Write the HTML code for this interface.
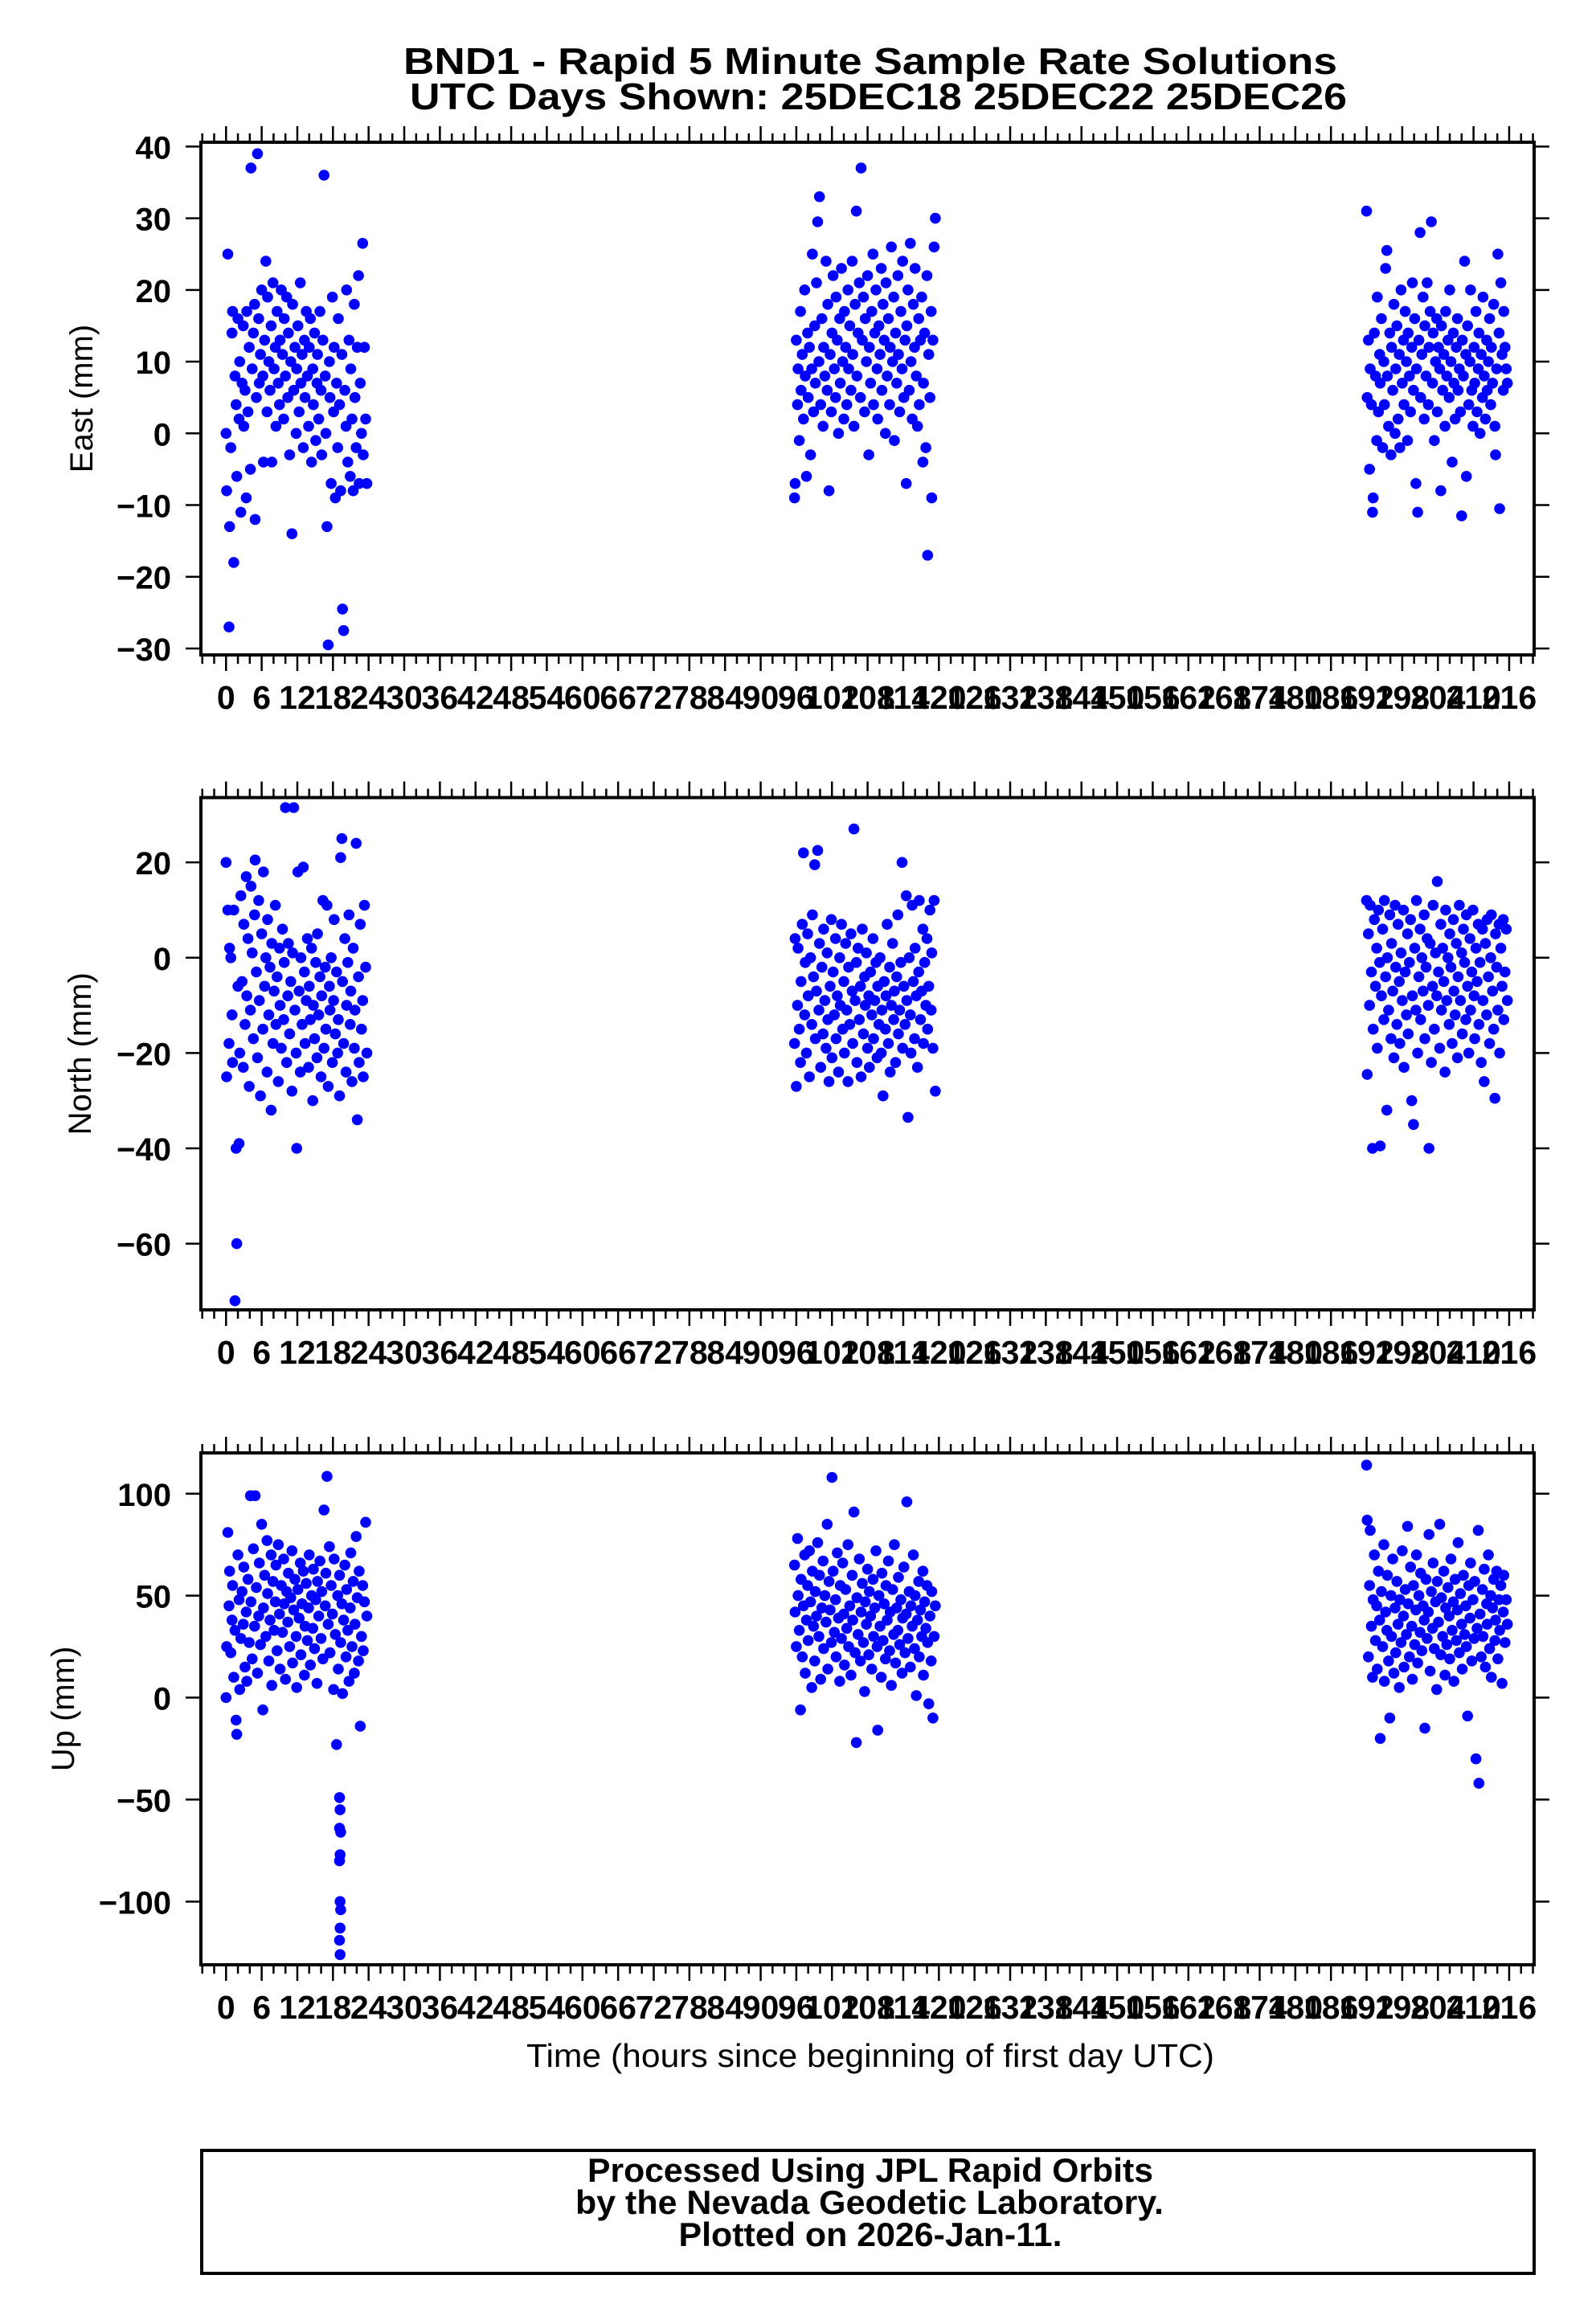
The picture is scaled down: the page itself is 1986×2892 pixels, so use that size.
<!DOCTYPE html>
<html><head><meta charset="utf-8"><title>BND1 Rapid 5 Minute Solutions</title>
<style>html,body{margin:0;padding:0;background:#fff}svg{display:block}</style></head>
<body>
<svg id="chart" xmlns="http://www.w3.org/2000/svg" width="1986" height="2892" viewBox="0 0 1986 2892" font-family="'Liberation Sans', sans-serif">
<rect width="1986" height="2892" fill="#fff"/>
<text x="1083" y="92" text-anchor="middle" font-weight="bold" font-size="46" textLength="1162" lengthAdjust="spacingAndGlyphs">BND1 - Rapid 5 Minute Sample Rate Solutions</text>
<text x="1093" y="136" text-anchor="middle" font-weight="bold" font-size="46" textLength="1166" lengthAdjust="spacingAndGlyphs">UTC Days Shown:  25DEC18 25DEC22 25DEC26</text>
<text x="1083" y="2572" text-anchor="middle" font-size="41" textLength="856" lengthAdjust="spacingAndGlyphs">Time (hours since beginning of first day UTC)</text>
<rect x="251" y="2676" width="1658" height="153" fill="none" stroke="#000" stroke-width="4"/>
<text x="1083" y="2715" text-anchor="middle" font-weight="bold" font-size="42" textLength="704" lengthAdjust="spacingAndGlyphs">Processed Using JPL Rapid Orbits</text>
<text x="1082" y="2755" text-anchor="middle" font-weight="bold" font-size="42" textLength="732" lengthAdjust="spacingAndGlyphs">by the Nevada Geodetic Laboratory.</text>
<text x="1083" y="2795" text-anchor="middle" font-weight="bold" font-size="42" textLength="477" lengthAdjust="spacingAndGlyphs">Plotted on 2026-Jan-11.</text>
</svg>
<script>
// ---- data ----
const dayStart = [0, 95.7, 192];
const tDay = [0.0,0.1,0.3,0.5,0.6,0.8,1.0,1.1,1.3,1.5,1.7,1.8,2.0,2.2,2.3,2.5,2.7,2.9,3.0,3.2,3.4,3.5,3.7,3.9,4.1,4.2,4.4,4.6,4.8,4.9,5.1,5.3,5.5,5.6,5.8,6.0,6.2,6.3,6.5,6.7,6.9,7.0,7.2,7.4,7.6,7.7,7.9,8.1,8.3,8.4,8.6,8.8,9.0,9.1,9.3,9.5,9.7,9.8,10.0,10.2,10.4,10.5,10.7,10.9,11.1,11.2,11.4,11.6,11.8,11.9,12.1,12.3,12.5,12.6,12.8,13.0,13.2,13.3,13.5,13.7,13.9,14.0,14.2,14.4,14.6,14.7,14.9,15.1,15.3,15.4,15.6,15.8,16.0,16.1,16.3,16.5,16.7,16.8,17.0,17.2,17.4,17.5,17.7,17.9,18.1,18.2,18.4,18.6,18.8,18.9,19.1,19.3,19.5,19.6,19.8,20.0,20.2,20.3,20.5,20.7,20.9,21.0,21.2,21.4,21.6,21.7,21.9,22.1,22.3,22.4,22.6,22.8,23.0,23.1,23.3,23.5,23.7];
const east1 = [0,-8,25,-27,-13,-2,14,17,-18,8, 4,-6,16,2,10,-11,7,15,1,6, -9,17,3,12,-5,37,9,14,18,-12, 5,39,16,7,11,20,8,-4,13,24, 3,19,10,6,15,-4,21,9,12,1, 17,7,4,13,20,11,2,16,8,19, 5,14,-3,10,-14,18,6,12,0,9, 15,3,21,7,11,-2,13,5,17,8, 1,12,16,-4,9,4,14,-1,7,11, 2,17,6,-3,13,36,8,0,-13,-29.5, 10,5,-7,19,3,12,-9,7,-2,16, 4,-8,11,-24.5,-27.5,6,1,20,-4,13, -6,9,2,-8,18,5,-2,12,22,-7, 7,0,26.5,-3,12,2,-7];
const east2 = [-9,-7,13,4,9,-1,17,6,11,2, 20,8,-6,14,5,12,-3,9,25,3, 15,7,21,29.5,10,33,4,16,1,12, 8,24,6,18,-8,11,3,14,22,9, 5,19,13,0,16,7,23,10,2,17, 12,4,20,9,15,6,24,11,1,18, 31,8,14,21,5,37,13,19,3,16, 10,22,-3,12,7,17,25,4,14,20, 9,2,15,11,23,6,18,13,0,21, 8,16,4,12,26,10,19,-1,14,7, 22,11,3,17,9,24,5,13,-7,15, 20,6,26.5,10,2,18,12,23,8,1, 16,4,13,19,-4,7,14,-2,22,-17, 11,5,17,-9,13,26,30];
const east3 = [31,5,13,-5,9,4,-11,-9,14,8, -1,19,3,11,7,16,-2,10,4,23, 25.5,8,1,14,-3,12,6,18,0,9, 15,2,11,-2,20,7,13,4,17,10, -1,14,8,3,12,21,6,16,-7,9, -11,13,28,5,11,19,2,15,8,21, 4,12,17,29.5,7,14,-1,10,16,3, 12,9,-8,15,6,11,1,17,8,13, 5,20,10,-4,14,7,2,12,16,6, 9,3,-11.5,13,8,24,11,-6,15,4, 10,20,6,1,12,7,17,3,9,14, 0,11,5,19,8,2,13,6,10,16, 4,12,7,18,1,-3,9,25,14,-10.5, 21,11,6,17,12,9,7];
const north1 = [20,-25,10,-18,2,0,-12,-22,10,-72, -40,-60,-6,-39,-20,13,-5,-23,7,-14, 17,-8,4,-27,-11,15,1,-17,9,20.5, -3,-21,12,-9,-29,5,-15,18,-6,0, -24,8,-12,-2,-32,3,-18,-7,11,-14, -4,-26,2,-10,-19,6,-13,-1,31.5,-22, -8,3,-16,-5,-28,1,31.5,-11,-20,-40, 18,-7,-24,0,-14,19,-3,-18,-9,4, -23,-6,-13,2,-30,-10,-17,-1,-21,5, -12,-4,-25,-8,12,-19,-2,-15,11,-27, -6,-11,0,-22,-9,8,-16,-3,-20,-13, -29,21,25,-5,-18,4,-24,-10,-1,9, -14,-7,-26,2,-19,-11,24,-34,-4,-22, 7,-15,-9,-25,11,-2,-20];
const north2 = [-18,4,-27,-10,2,-15,-22,-5,7,22, -12,-1,-20,5,-8,-25,0,-14,9,-4, 19.5,-17,-7,22.5,-11,3,-23,-2,-16,6, -9,-19,1,-13,-26,-6,8,-21,-3,-12, 4,-17,-8,-24,0,-10,7,-15,-5,-20, 3,-11,-26,-2,-14,5,-7,-18,27,-9, -1,-22,2,-13,-6,-25,6,-16,-4,-10, 1,-19,-8,-23,-3,-12,4,-17,-9,-1, -21,-6,-14,0,-20,-11,-29,-5,-15,-8, 7,-18,-2,-24,-10,3,-13,-7,-22,-4, 9,-16,-11,-1,20,-19,-6,-14,13,-9, -33.5,0,-12,-20,11,-5,-17,2,-8,-23, -3,12,-13,-7,6,-18,-1,-10,4,-15, -6,10,-11,1,-19,12,-28];
const north3 = [12,-24.5,5,-10,11,-3,-40,-15,8,-6, 2,-19,10,-1,-39.5,-8,6,-13,12,-4, -32,0,-11,9,-17,3,-7,-21,11,-2, -14,7,-5,-18,1,-9,10,-23,-3,-12, 5,-16,-1,8,-30,-8,-35,2,-11,12, -20,-4,6,-13,0,-7,9,-17,-2,4, -10,-40,3,-22,-6,11,-15,1,-8,16, -3,-19,7,-11,2,-5,-24,10,-9,0, -14,5,-2,-18,8,-7,-12,3,-21,-4, 11,-9,1,-16,6,-1,-13,9,-6,-20, 4,-11,-3,10,-8,-17,2,-5,7,-14, -1,-22,6,-9,-26,3,-12,8,-4,-18, 0,9,-7,-15,-29.5,5,-2,-11,7,-20, 2,-6,8,-13,-3,6,-9];
const up1 = [0,25,81,45,62,22,38,55,10,33, -11,-18,70,48,4,29,52,36,64,15, 42,8,58,27,99,47,19,73,35,99, 54,12,40,66,26,85,-6,44,60,30, 77,51,18,38,70,6,57,33,47,65, 23,75,41,14,55,32,68,46,9,52, 37,61,25,49,72,17,43,58,30,5, 53,39,66,21,46,62,11,35,56,28, 44,70,16,50,34,63,24,48,7,57, 40,67,29,52,19,92,45,61,108.5,36, 74,22,55,41,4,68,31,-23,50,14, 60,27,46,2,38,65,20,53,33,8, 44,71,25,57,12,36,79,49,18,62, -14,30,55,23,47,86,40];
const up2 = [65,42,25,78,50,33,-6,58,20,45, 70,12,38,55,28,72,47,5,62,35, 18,52,40,76,30,60,9,44,67,24, 50,37,85,14,57,43,27,108,62,32, 48,20,71,39,8,55,29,66,41,16, 53,34,75,25,45,11,60,38,91,22, -22,49,31,68,18,42,56,27,3,47, 36,63,21,52,40,14,58,30,44,72, 25,-16,50,35,10,61,28,46,19,55, 38,67,23,42,6,53,31,75,17,44, 33,59,26,48,12,39,64,22,41,96, 29,52,15,45,35,70,24,50,1,38, 57,20,43,30,62,11,47,34,55,27, -3,40,18,52,-10,30,45];
const up3 = [114,87,20,55,82,35,10,48,70,28, 45,14,62,38,-20,52,25,75,8,42, 33,60,18,-10,50,30,68,12,44,22, 57,36,5,48,27,72,40,15,53,31, 84,46,20,64,35,9,55,26,43,70, 17,50,32,61,23,45,38,-15,58,29, 42,80,13,52,34,66,24,47,4,57, 37,85,21,49,30,62,11,44,26,54, 40,19,68,33,47,8,58,28,43,76, 22,51,36,14,60,31,45,25,-9,55, 39,66,18,48,29,57,-30,34,82,-42, 41,20,53,30,63,15,46,36,70,24, 50,10,44,58,28,38,62,19,48,33, 55,7,42,60,27,48,36];
// extra Up outliers (hours since start, mm)
const upExtraT = [19.1,19.2,19.1,19.3,19.2,19.1,19.2,19.3,19.2,19.1,19.2];
const upExtraV = [-49,-55,-64,-66,-77,-80,-100,-104,-113,-119,-126];
const xTickLabels = [0,6,12,18,24,30,36,42,48,54,60,66,72,78,84,90,96,102,108,114,120,126,132,138,144,150,156,162,168,174,180,186,192,198,204,210,216];
const eastTicks = [-30,-20,-10,0,10,20,30,40];
const northTicks = [-60,-40,-20,0,20];
const upTicks = [-100,-50,0,50,100];

// ---- layout ----
const NS = 'http://www.w3.org/2000/svg';
const svg = document.getElementById('chart');
const L = 250, R = 1909, XMIN = -4.23, XMAX = 220.2, DOT = 6.8;
const xS = h => L + (h - XMIN) / (XMAX - XMIN) * (R - L);
function mk(tag, attrs, parent) {
  const e = document.createElementNS(NS, tag);
  for (const k in attrs) e.setAttribute(k, attrs[k]);
  (parent || svg).appendChild(e);
  return e;
}
const panels = [
  {key:'east', title:'East (mm)', top:177, bot:815, ymin:-30.9, ymax:40.6, ticks:eastTicks, series:[east1,east2,east3], titleX:115},
  {key:'north', title:'North (mm)', top:992.5, bot:1630, ymin:-73.9, ymax:33.6, ticks:northTicks, series:[north1,north2,north3], titleX:113},
  {key:'up', title:'Up (mm)', top:1808, bot:2445, ymin:-131, ymax:120, ticks:upTicks, series:[up1,up2,up3], titleX:92}
];
panels.forEach(p => {
  const g = mk('g', {});
  
  
  const yS = v => p.bot - (v - p.ymin) / (p.ymax - p.ymin) * (p.bot - p.top);
  const pg = mk('g', {fill:'#0000ff'}, g);
  
  
  p.series.forEach((arr, d) => {
    const n = Math.min(arr.length, tDay.length);
    for (let i = 0; i < n; i++) {
      const y = yS(arr[i]);
      if (y < p.top || y > p.bot) continue;
      const c = mk('circle', {cx:xS(dayStart[d] + tDay[i]).toFixed(1), cy:y.toFixed(1), r:DOT}, pg);
      
      
    }
  });
  if (p.key === 'up') {
    for (let i = 0; i < upExtraT.length; i++) {
      const c = mk('circle', {cx:xS(upExtraT[i]).toFixed(1), cy:yS(upExtraV[i]).toFixed(1), r:DOT}, pg);
      
      
    }
  }
  const fr = mk('rect', {x:L, y:p.top, width:R-L, height:p.bot-p.top, fill:'none', stroke:'#000', 'stroke-width':4}, g);
  
  
  const tg = mk('g', {stroke:'#000', 'stroke-width':2.5}, g);
  
  
  for (let h = -4; h <= 220; h += 2) {
    const major = (h % 6 === 0);
    const len = major ? 18 : 9;
    const x = xS(h);
    mk('line', {x1:x, x2:x, y1:p.bot + 2, y2:p.bot + 2 + len}, tg);
    mk('line', {x1:x, x2:x, y1:p.top - 2, y2:p.top - 2 - len}, tg);
  }
  const lg = mk('g', {'font-weight':'bold', 'font-size':41, 'text-anchor':'middle'}, g);
  
  
  xTickLabels.forEach(v => {
    const t = mk('text', {x:xS(v), y:p.bot + 67}, lg);
    
    
    t.textContent = v;
  });
  const yg = mk('g', {}, g);
  
  
  p.ticks.forEach(v => {
    const y = yS(v);
    mk('line', {x1:231, x2:L, y1:y, y2:y, stroke:'#000', 'stroke-width':2.5}, yg);
    mk('line', {x1:R, x2:1928, y1:y, y2:y, stroke:'#000', 'stroke-width':2.5}, yg);
    const t = mk('text', {x:213, y:y + 15, 'text-anchor':'end', 'font-weight':'bold', 'font-size':40}, yg);
    
    
    t.textContent = String(v).replace('-', '\u2212');
  });
  const cy = (p.top + p.bot) / 2;
  const yt = mk('text', {x:p.titleX, y:cy, 'font-size':40, 'text-anchor':'middle', transform:`rotate(-90 ${p.titleX} ${cy})`}, g);
  
  
  yt.textContent = p.title;
});
</script>
</body></html>
